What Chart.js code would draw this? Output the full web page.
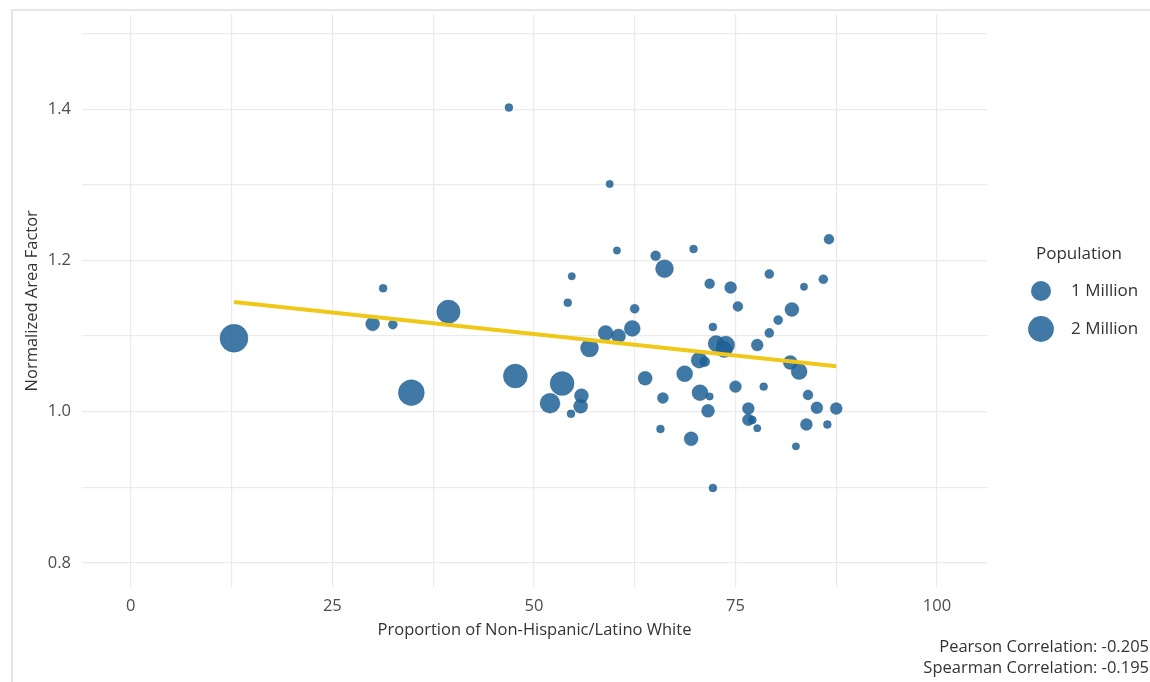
<!DOCTYPE html>
<html lang="en">
<head>
  <meta charset="UTF-8" />
  <title>Normalized Area Factor vs Non-Hispanic White</title>
  <script src="https://cdn.jsdelivr.net/npm/chart.js"></script>
  <style>
    body {
      margin: 0;
      padding: 0;
      background-color: #fff;
      font-family: 'Open Sans', sans-serif;
      overflow: hidden;
    }

    .frame {
      position: absolute;
      left: 11px;
      top: 9px;
      width: 1200px;
      height: 800px;
      border-left: 2px solid #e6e6e6;
      border-top: 2px solid #e6e6e6;
    }

    .chart-box {
      position: relative;
      width: 1150px;
      height: 682px;
    }
  </style>
</head>
<body>
  <div class="frame"></div>
  <div class="chart-box">
    <canvas id="scatterChart" width="1150" height="682"></canvas>
  </div>

  <script>
    // proportion of non-hispanic/latino white (%)
    const whiteShare = [
      12.8, 30.0, 31.3, 32.5, 34.8, 39.4, 46.9, 47.7, 52.0, 53.5,
      54.2, 54.6, 54.7, 55.8, 55.9, 56.9, 58.9, 59.4, 60.3, 60.5,
      62.2, 62.5, 63.8, 65.1, 65.7, 66.0, 66.2, 68.7, 69.5, 69.8,
      70.5, 70.6, 71.2, 71.6, 71.8, 71.8, 72.2, 72.2, 72.6, 73.8,
      73.6, 74.4, 75.0, 75.3, 76.6, 76.6, 77.1, 77.7, 77.7, 78.5,
      79.2, 79.2, 80.3, 81.8, 82.0, 82.5, 82.9, 83.5, 83.8, 84.0,
      85.1, 85.9, 86.4, 86.6, 87.5
    ];

    // normalized area factor
    const areaFactor = [
      1.097, 1.116, 1.163, 1.115, 1.025, 1.132, 1.402, 1.047, 1.011, 1.037,
      1.144, 0.997, 1.179, 1.007, 1.021, 1.084, 1.104, 1.301, 1.213, 1.100,
      1.110, 1.136, 1.044, 1.206, 0.977, 1.018, 1.189, 1.050, 0.964, 1.215,
      1.068, 1.025, 1.066, 1.001, 1.020, 1.169, 1.112, 0.899, 1.090, 1.088,
      1.082, 1.164, 1.033, 1.139, 1.004, 0.989, 0.989, 0.978, 1.088, 1.033,
      1.182, 1.104, 1.121, 1.065, 1.135, 0.954, 1.053, 1.165, 0.983, 1.022,
      1.005, 1.175, 0.983, 1.228, 1.004
    ];

    // population in millions
    const population = [
      2.47, 0.33, 0.02, 0.05, 2.04, 1.55, 0.02, 1.65, 1.00, 1.65,
      0.02, 0.02, 0.01, 0.33, 0.33, 0.73, 0.41, 0.01, 0.01, 0.33,
      0.51, 0.05, 0.33, 0.08, 0.02, 0.13, 0.73, 0.51, 0.33, 0.02,
      0.51, 0.51, 0.08, 0.25, 0.01, 0.08, 0.02, 0.02, 0.51, 0.73,
      0.51, 0.18, 0.18, 0.08, 0.18, 0.18, 0.02, 0.01, 0.18, 0.02,
      0.05, 0.05, 0.05, 0.33, 0.33, 0.01, 0.51, 0.01, 0.18, 0.08,
      0.18, 0.05, 0.02, 0.08, 0.18
    ];

    // fitted line end points
    const trendX = [12.8, 87.5];
    const trendY = [1.145, 1.060];

    const xTicks = [0, 12.5, 25, 37.5, 50, 62.5, 75, 87.5, 100];
    const yTicks = [0.8, 0.9, 1.0, 1.1, 1.2, 1.3, 1.4, 1.5];
    const legendSizes = [1, 2];
    const corrLines = ['Pearson Correlation: -0.205', 'Spearman Correlation: -0.195'];

    const dotColor = 'rgba(30, 98, 150, 0.85)';
    const tickColor = '#4d4d4d';
    const textFont = { family: 'Open Sans', size: 16.5 };

    function sizeFor(pop) {
      return 3 + 7 * Math.sqrt(pop);
    }

    const bubbles = whiteShare.map((x, i) => ({ x: x, y: areaFactor[i], r: sizeFor(population[i]) }));
    const trend = trendX.map((x, i) => ({ x: x, y: trendY[i] }));

    // size legend + correlation text
    const extrasPlugin = {
      id: 'extras',
      afterDraw(chart) {
        const ctx = chart.ctx;
        ctx.save();
        ctx.fillStyle = '#333';
        ctx.font = '17px "Open Sans"';
        ctx.textBaseline = 'middle';
        ctx.textAlign = 'left';
        ctx.fillText('Population', 1036, 254);

        legendSizes.forEach((p, i) => {
          const cy = 291 + i * 38;
          ctx.beginPath();
          ctx.arc(1041, cy, sizeFor(p), 0, Math.PI * 2);
          ctx.fillStyle = dotColor;
          ctx.fill();
          ctx.fillStyle = '#333';
          ctx.fillText(p + ' Million', 1071, cy);
        });

        ctx.font = '16.5px "Open Sans"';
        ctx.textAlign = 'right';
        corrLines.forEach((t, i) => {
          ctx.fillText(t, 1149, 647 + i * 21);
        });
        ctx.restore();
      }
    };

    const ctxScatter = document.getElementById('scatterChart').getContext('2d');
    const scatterChart = new Chart(ctxScatter, {
      type: 'bubble',
      data: {
        datasets: [
          {
            type: 'line',
            label: 'Trend',
            data: trend,
            borderColor: '#efc81a',
            borderWidth: 4,
            pointRadius: 0,
            fill: false,
            order: 0
          },
          {
            label: 'Population',
            data: bubbles,
            backgroundColor: dotColor,
            borderColor: 'rgba(25, 80, 125, 0.5)',
            borderWidth: 0.6,
            order: 1
          }
        ]
      },
      options: {
        responsive: false,
        animation: false,
        layout: {
          padding: { left: 18, top: 12, right: 163, bottom: 38 }
        },
        scales: {
          x: {
            type: 'linear',
            min: -6.05,
            max: 106.2,
            afterBuildTicks: axis => { axis.ticks = xTicks.map(v => ({ value: v })); },
            afterFit: scale => {
              scale.height = 57;
              scale.paddingLeft = 0;
              scale.paddingRight = 0;
            },
            grid: { color: '#ebebeb', lineWidth: 1.2, drawTicks: false },
            border: { display: false },
            ticks: {
              color: tickColor,
              font: textFont,
              padding: 9,
              maxRotation: 0,
              autoSkip: false,
              callback: v => (v % 25 === 0 ? v : '')
            },
            title: {
              display: true,
              text: 'Proportion of Non-Hispanic/Latino White',
              color: '#333',
              font: textFont
            }
          },
          y: {
            type: 'linear',
            min: 0.768,
            max: 1.525,
            afterBuildTicks: axis => { axis.ticks = yTicks.map(v => ({ value: v })); },
            afterFit: scale => {
              scale.width = 64;
              scale.paddingTop = 0;
              scale.paddingBottom = 0;
            },
            grid: { color: '#ebebeb', lineWidth: 1.2, drawTicks: false },
            border: { display: false },
            ticks: {
              color: tickColor,
              font: textFont,
              padding: 11,
              autoSkip: false,
              callback: v => {
                const k = Math.round(v * 10);
                return k % 2 === 0 ? (k / 10).toFixed(1) : '';
              }
            },
            title: {
              display: true,
              text: 'Normalized Area Factor',
              color: '#333',
              font: textFont
            }
          }
        },
        plugins: {
          legend: { display: false },
          tooltip: { enabled: false }
        }
      },
      plugins: [extrasPlugin]
    });
  </script>
</body>
</html>
